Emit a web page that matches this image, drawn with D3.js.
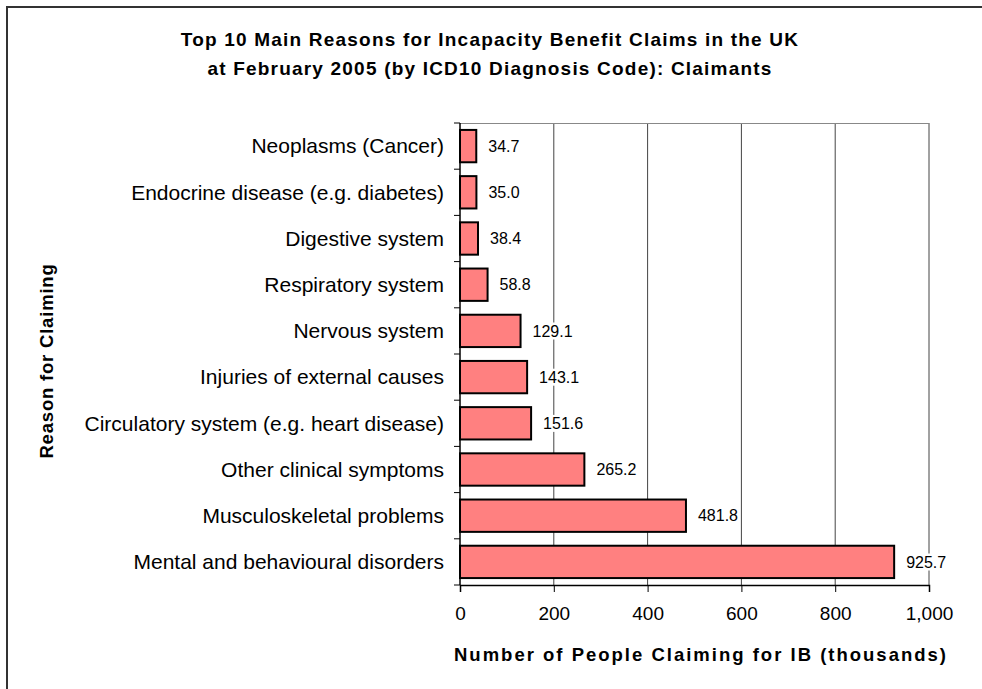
<!DOCTYPE html>
<html>
<head>
<meta charset="utf-8">
<script src="https://cdn.jsdelivr.net/npm/d3@7"></script>
<style>
  body { margin: 0; background: #fff; }
  svg { display: block; font-family: Arial, "Liberation Sans", sans-serif; }
</style>
</head>
<body>
<svg id="chart" width="982" height="689"></svg>
<script>
const REASONS = [
    "Neoplasms (Cancer)",
    "Endocrine disease (e.g. diabetes)",
    "Digestive system",
    "Respiratory system",
    "Nervous system",
    "Injuries of external causes",
    "Circulatory system (e.g. heart disease)",
    "Other clinical symptoms",
    "Musculoskeletal problems",
    "Mental and behavioural disorders"
];
const CLAIMANTS = [34.7, 35.0, 38.4, 58.8, 129.1, 143.1, 151.6, 265.2, 481.8, 925.7];
const X_TICKS = [0, 200, 400, 600, 800, 1000];
const TITLE_LINES = [
    "Top 10 Main Reasons for Incapacity Benefit Claims in the UK",
    "at February 2005 (by ICD10 Diagnosis Code): Claimants"
];

const svg = d3.select("#chart");
const margin = {left: 460, right: 53, top: 123, bottom: 104};
const width = 982 - margin.left - margin.right;
const height = 689 - margin.top - margin.bottom;

// frame (only top and left edges show in the picture)
svg.append("path")
    .attr("d", "M7,689 V7 H982")
    .attr("fill", "none")
    .attr("stroke", "#333")
    .attr("stroke-width", 2);

// title
svg.append("g").selectAll("text")
    .data(TITLE_LINES)
    .enter()
    .append("text")
    .attr("x", 490)
    .attr("y", (d, i) => 46 + i * 29)
    .attr("text-anchor", "middle")
    .attr("font-size", 19)
    .attr("font-weight", "bold")
    .attr("letter-spacing", 1.2)
    .text(d => d);

const g = svg.append("g").attr("transform", `translate(${margin.left},${margin.top})`);

const x = d3.scaleLinear().domain([0, 1000]).range([0, width]);
const y = d3.scaleBand().domain(REASONS).range([0, height]).paddingInner(0.3).paddingOuter(0.15);

// gridlines
g.selectAll("line.grid")
    .data(X_TICKS.slice(1))
    .enter()
    .append("line")
    .attr("class", "grid")
    .attr("x1", d => x(d)).attr("x2", d => x(d))
    .attr("y1", 0).attr("y2", height)
    .attr("stroke", "#444")
    .attr("stroke-width", 1);

// plot top border
g.append("line")
    .attr("x1", 0).attr("x2", width)
    .attr("y1", 0.5).attr("y2", 0.5)
    .attr("stroke", "#888");

// bars
g.selectAll("rect.bar")
    .data(REASONS)
    .enter()
    .append("rect")
    .attr("class", "bar")
    .attr("x", 0)
    .attr("y", d => y(d))
    .attr("width", (d, i) => x(CLAIMANTS[i]))
    .attr("height", y.bandwidth())
    .attr("fill", "#ff8080")
    .attr("stroke", "#000")
    .attr("stroke-width", 2);

// value labels with white background over the gridlines
const labels = g.selectAll("g.val")
    .data(REASONS)
    .enter()
    .append("g")
    .attr("class", "val")
    .attr("transform", (d, i) => `translate(${x(CLAIMANTS[i]) + 12},${y(d) + y.bandwidth() / 2})`);

labels.append("text")
    .attr("dy", "0.35em")
    .attr("font-size", 16)
    .attr("fill", "#000")
    .text((d, i) => d3.format(".1f")(CLAIMANTS[i]));

labels.each(function() {
    let bb = d3.select(this).select("text").node().getBBox();
    d3.select(this).insert("rect", "text")
        .attr("x", bb.x - 1).attr("y", bb.y)
        .attr("width", bb.width + 2).attr("height", bb.height)
        .attr("fill", "#fff");
});

// y axis: ticks between bands, drawn to the left
const yAxis = g.append("g");
yAxis.append("line")
    .attr("x1", 0).attr("x2", 0)
    .attr("y1", 0).attr("y2", height)
    .attr("stroke", "#000").attr("stroke-width", 1.5);
yAxis.selectAll("line.tick")
    .data(d3.range(REASONS.length + 1))
    .enter()
    .append("line")
    .attr("class", "tick")
    .attr("x1", -6).attr("x2", 0)
    .attr("y1", i => i * height / REASONS.length)
    .attr("y2", i => i * height / REASONS.length)
    .attr("stroke", "#000");
yAxis.selectAll("text")
    .data(REASONS)
    .enter()
    .append("text")
    .attr("x", -16)
    .attr("y", d => y(d) + y.bandwidth() / 2)
    .attr("dy", "0.35em")
    .attr("text-anchor", "end")
    .attr("font-size", 21)
    .text(d => d);

// x axis
const xAxis = g.append("g")
    .attr("transform", `translate(0,${height})`)
    .call(d3.axisBottom(x)
        .tickValues(X_TICKS)
        .tickSize(7)
        .tickPadding(15)
        .tickFormat(d3.format(",")));
xAxis.select(".domain").attr("stroke", "#000").attr("stroke-width", 1.5);
xAxis.selectAll("line").attr("stroke", "#000");
xAxis.selectAll("text")
    .attr("font-size", 19)
    .attr("font-family", "Arial, 'Liberation Sans', sans-serif")
    .attr("fill", "#000");

// axis titles
svg.append("text")
    .attr("x", 701)
    .attr("y", 661)
    .attr("text-anchor", "middle")
    .attr("font-size", 18.5)
    .attr("font-weight", "bold")
    .attr("letter-spacing", 2)
    .text("Number of People Claiming for IB (thousands)");

svg.append("text")
    .attr("transform", "translate(53,361) rotate(-90)")
    .attr("text-anchor", "middle")
    .attr("font-size", 18.5)
    .attr("font-weight", "bold")
    .attr("letter-spacing", 0.8)
    .text("Reason for Claiming");
</script>
</body>
</html>
